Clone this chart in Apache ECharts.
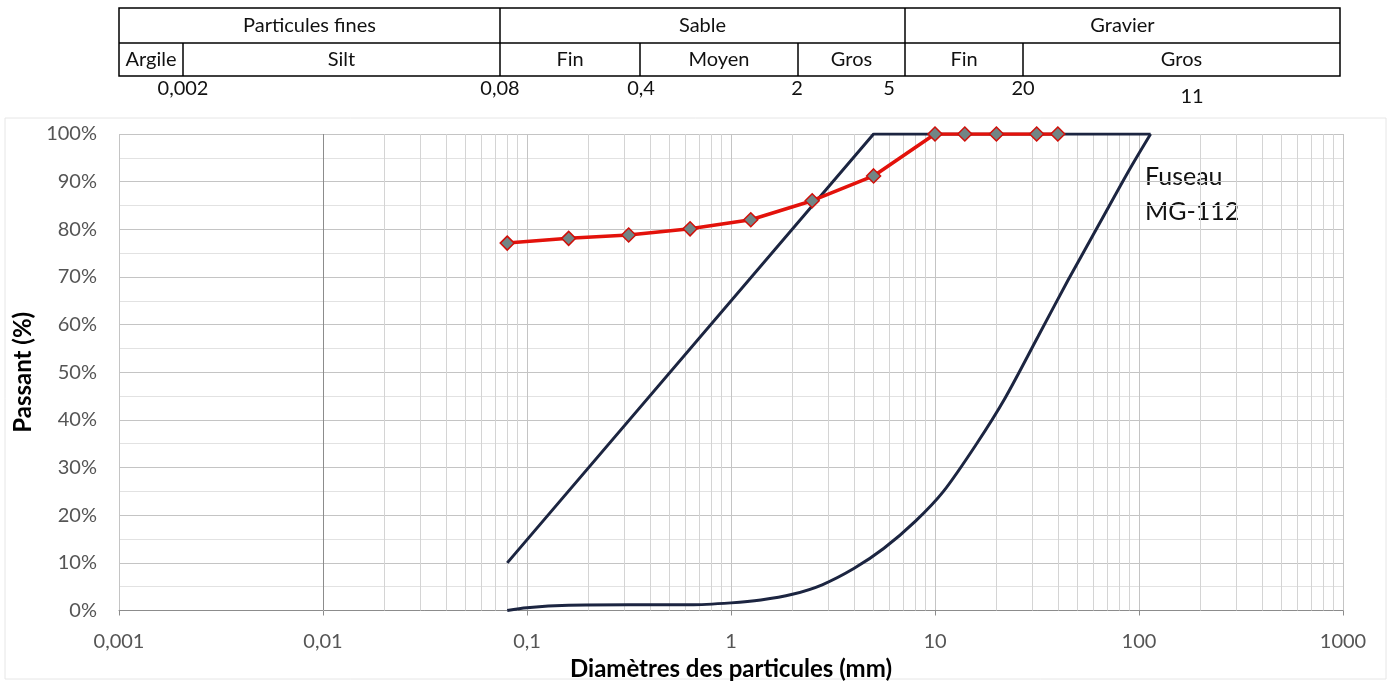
<!DOCTYPE html>
<html>
<head>
<meta charset="utf-8">
<title>Courbe granulométrique</title>
<script src="https://cdn.jsdelivr.net/npm/echarts@6/dist/echarts.min.js"></script>
<style>
    html, body { margin: 0; padding: 0; background: #fff; }
    #container { width: 1394px; height: 682px; }
</style>
</head>
<body>
<div id="container"></div>
<script>
// tamis (mm) et passants de l'échantillon
var sieves = [0.08, 0.16, 0.315, 0.63, 1.25, 2.5, 5, 10, 14, 20, 31.5, 40];
var passing = [77.1, 78.1, 78.8, 80.1, 82.0, 86.0, 91.2, 100, 100, 100, 100, 100];

// fuseau MG-112 : limite supérieure et limite inférieure
var upperX = [0.08, 5, 114];
var upperY = [10, 100, 100];
var lowerX = [0.08, 0.1, 0.16, 0.315, 0.63, 1, 1.4, 2, 2.8, 4, 5.6, 8, 11, 16, 22, 32, 45, 64, 90, 114];
var lowerY = [0, 0.6, 1.1, 1.2, 1.2, 1.6, 2.2, 3.4, 5.4, 8.8, 13.0, 18.7, 25.0, 35.0, 44.5, 57.5, 69.4, 81.2, 92.6, 100];

var xTickLabels = ['0,001', '0,01', '0,1', '1', '10', '100', '1000'];

// tableau de classification en haut
var row1 = ['Particules fines', 'Sable', 'Gravier'];
var row2 = ['Argile', 'Silt', 'Fin', 'Moyen', 'Gros', 'Fin', 'Gros'];
var limits = ['0,002', '0,08', '0,4', '2', '5', '20', '11'];

function zip(xs, ys) {
    var out = [];
    for (var i = 0; i < xs.length; i++) out.push([xs[i], ys[i]]);
    return out;
}

var FONT = 'Lato, "Open Sans", sans-serif';

// lignes secondaires du quadrillage logarithmique (2..9 par décade)
var minorLines = [];
for (var e = -3; e < 3; e++) {
    for (var k = 2; k <= 9; k++) {
        minorLines.push({xAxis: k * Math.pow(10, e)});
    }
}

// géométrie du tableau
var tLeft = 119, tRight = 1340, tTop = 8, tMid = 43, tBot = 76;
var row1Edges = [tLeft, 500, 905, tRight];
var row2Edges = [tLeft, 183, 500, 640, 798, 905, 1023, tRight];
var limitPos = [[183, 89], [500, 89], [641, 89], [797, 89], [889, 89], [1023, 89], [1192, 97]];

function tableGraphics() {
    var g = [];
    var lineStyle = {stroke: '#000', lineWidth: 1.5};
    var txt = '20px ' + FONT;
    g.push({type: 'rect', shape: {x: tLeft, y: tTop, width: tRight - tLeft, height: tBot - tTop},
        style: {fill: 'none', stroke: '#000', lineWidth: 1.5}});
    g.push({type: 'line', shape: {x1: tLeft, y1: tMid, x2: tRight, y2: tMid}, style: lineStyle});
    var i;
    for (i = 1; i < row1Edges.length - 1; i++) {
        g.push({type: 'line', shape: {x1: row1Edges[i], y1: tTop, x2: row1Edges[i], y2: tMid}, style: lineStyle});
    }
    for (i = 1; i < row2Edges.length - 1; i++) {
        g.push({type: 'line', shape: {x1: row2Edges[i], y1: tMid, x2: row2Edges[i], y2: tBot}, style: lineStyle});
    }
    for (i = 0; i < row1.length; i++) {
        g.push({type: 'text', x: (row1Edges[i] + row1Edges[i + 1]) / 2, y: (tTop + tMid) / 2,
            style: {text: row1[i], font: txt, fill: '#111', align: 'center', verticalAlign: 'middle'}});
    }
    for (i = 0; i < row2.length; i++) {
        g.push({type: 'text', x: (row2Edges[i] + row2Edges[i + 1]) / 2, y: (tMid + tBot) / 2,
            style: {text: row2[i], font: txt, fill: '#111', align: 'center', verticalAlign: 'middle'}});
    }
    for (i = 0; i < limits.length; i++) {
        g.push({type: 'text', x: limitPos[i][0], y: limitPos[i][1],
            style: {text: limits[i], font: txt, fill: '#111', align: 'center', verticalAlign: 'middle'}});
    }
    // cadre léger du graphique
    g.push({type: 'rect', shape: {x: 5, y: 118, width: 1381, height: 561},
        style: {fill: 'none', stroke: '#e6e6e6', lineWidth: 1}, z: -1});
    // étiquette du fuseau
    g.push({type: 'text', x: 1145, y: 177,
        style: {text: 'Fuseau', font: '25px ' + FONT, fill: '#111', verticalAlign: 'middle'}});
    g.push({type: 'text', x: 1145, y: 212,
        style: {text: 'MG-112', font: '25px ' + FONT, fill: '#111', verticalAlign: 'middle'}});
    return g;
}

var myChart = echarts.init(document.getElementById('container'));
var option = {
    animation: false,
    backgroundColor: '#fff',
    textStyle: {fontFamily: FONT},
    grid: {left: 119, right: 51, top: 134, bottom: 71.5, outerBoundsMode: 'none'},
    xAxis: {
        type: 'log',
        logBase: 10,
        min: 0.001,
        max: 1000,
        name: 'Diamètres des particules (mm)',
        nameLocation: 'middle',
        nameGap: 47,
        nameTextStyle: {fontSize: 24, fontWeight: 'bold', color: '#000', fontFamily: FONT},
        axisLine: {lineStyle: {color: '#8c8c8c', width: 1}},
        axisTick: {show: true, length: 5, lineStyle: {color: '#8c8c8c'}},
        axisLabel: {
            fontSize: 20, color: '#555', margin: 21, fontFamily: FONT,
            formatter: function (v) {
                var idx = Math.round(Math.log(v) / Math.LN10) + 3;
                return xTickLabels[idx] || '';
            }
        },
        splitLine: {show: true, lineStyle: {color: '#c4c4c4', width: 1}}
    },
    yAxis: {
        type: 'value',
        min: 0,
        max: 100,
        interval: 10,
        name: 'Passant (%)',
        nameLocation: 'middle',
        nameGap: 74,
        nameTextStyle: {fontSize: 24, fontWeight: 'bold', color: '#000', fontFamily: FONT},
        axisLine: {show: false},
        axisTick: {show: false},
        axisLabel: {fontSize: 20, color: '#555', margin: 22, formatter: '{value}%', fontFamily: FONT},
        splitLine: {show: true, lineStyle: {color: '#c4c4c4', width: 1}},
        minorTick: {show: false, splitNumber: 2},
        minorSplitLine: {show: true, lineStyle: {color: '#e2e2e2', width: 1}}
    },
    series: [
        {
            name: 'grille',
            type: 'line',
            data: [],
            silent: true,
            markLine: {
                silent: true,
                symbol: 'none',
                z: 1,
                label: {show: false},
                lineStyle: {color: '#d4d4d4', width: 1, type: 'solid'},
                data: minorLines
            }
        },
        {
            // axe vertical qui croise à 0,01
            name: 'axe',
            type: 'line',
            data: [],
            silent: true,
            markLine: {
                silent: true,
                symbol: 'none',
                z: 1,
                label: {show: false},
                lineStyle: {color: '#8c8c8c', width: 1, type: 'solid'},
                data: [{xAxis: 0.01}]
            }
        },
        {
            name: 'Limite inférieure',
            type: 'line',
            data: zip(lowerX, lowerY),
            smooth: 0.3,
            showSymbol: false,
            z: 3,
            lineStyle: {color: '#1c2541', width: 3}
        },
        {
            name: 'Limite supérieure',
            type: 'line',
            data: zip(upperX, upperY),
            showSymbol: false,
            z: 3,
            lineStyle: {color: '#1c2541', width: 3}
        },
        {
            name: 'Échantillon',
            type: 'line',
            data: zip(sieves, passing),
            symbol: 'diamond',
            symbolSize: [14, 14],
            z: 4,
            lineStyle: {color: '#e3120b', width: 3.5},
            itemStyle: {color: '#718585', borderColor: '#d0100a', borderWidth: 1.5}
        }
    ],
    graphic: tableGraphics()
};
myChart.setOption(option);
</script>
</body>
</html>
